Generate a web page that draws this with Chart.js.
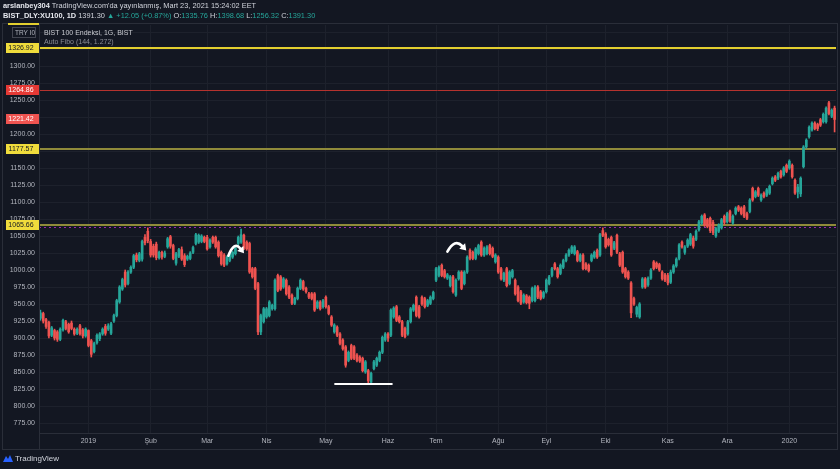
<!DOCTYPE html>
<html>
<head>
<meta charset="utf-8">
<script src="https://cdn.jsdelivr.net/npm/chart.js@4.4.1/dist/chart.umd.min.js"></script>
<style>
  html, body { margin: 0; padding: 0; background: #131722; }
  body { width: 840px; height: 469px; position: relative; overflow: hidden;
         font-family: "Liberation Sans", Arial, sans-serif; }
  #c { position: absolute; left: 0; top: 0; }
  .hdr { position: absolute; left: 3px; font-size: 7.4px; color: #d1d4dc; white-space: nowrap; line-height: 9px; }
  .hdr b { color: #e6e8ee; }
  .g { color: #26a69a; }
  #foot { position: absolute; left: 3px; top: 454px; height: 10px; font-size: 8px; color: #d1d4dc; white-space: nowrap; }
  #foot svg { vertical-align: -2px; margin-right: 2px; }
</style>
</head>
<body>
<canvas id="c" width="840" height="469"></canvas>
<div class="hdr" style="top:1px"><b>arslanbey304</b> TradingView.com'da yayınlanmış, Mart 23, 2021 15:24:02 EET</div>
<div class="hdr" style="top:11px"><b>BIST_DLY:XU100, 1D</b> 1391.30 <span class="g">▲ +12.05 (+0.87%)</span> O:<span class="g">1335.76</span> H:<span class="g">1398.68</span> L:<span class="g">1256.32</span> C:<span class="g">1391.30</span></div>
<div id="foot"><svg width="10" height="9" viewBox="0 0 10 9"><path d="M0 8 L3 2 L5 5 L7 1 L10 8 Z" fill="#2962ff"/></svg>TradingView</div>

<script>
// ---- daily candles, Dec 2018 .. Jan 2020 (one row per month) ----
const open = [
  929,936,927,923,904,911,909,898,912,924,920,922,913,907,918,912,903,
  911,896,880,893,899,906,917,913,907,925,933,953,972,997,980,997,1004,1022,1014,1016,1048,1057,
  1042,1035,1038,1018,1026,1020,1034,1049,1036,1010,1020,1030,1021,1016,1017,1026,1039,1041,1042,1048,
  1048,1034,1048,1048,1041,1026,1022,1009,1014,1019,1024,1039,1041,1051,1041,1039,1002,1002,980,909,924,
  931,933,943,943,992,990,975,985,975,963,951,958,973,983,973,965,965,965,945,953,946,
  960,946,931,909,916,906,897,887,867,889,887,875,872,870,850,852,835,855,860,867,879,897,
  906,904,931,946,931,924,914,906,924,941,960,946,960,958,948,951,958,
  985,992,1007,999,988,977,990,963,987,997,980,997,1029,1026,1017,1024,1041,1022,1024,1036,1032,1012,
  1019,1002,985,1002,980,990,985,975,968,953,962,960,955,955,975,968,960,
  968,980,992,1009,1002,995,1004,1014,1022,1026,1024,1027,1014,1022,1009,1007,1014,1019,1029,1022,1058,
  1053,1045,1048,1032,1051,1024,1026,1002,997,981,958,935,931,975,987,978,988,1012,1010,1008,997,993,
  992,982,997,1006,1017,1041,1026,1035,1038,1047,1045,1059,1069,1081,1074,1076,1070,1050,1057,1062,1079,
  1071,1086,1069,1083,1093,1091,1093,1083,1086,1120,1108,1120,1103,1113,1110,1113,1127,1137,1135,1145,1140,1154,
  1150,1154,1132,1115,1112,1152,1181,1196,1206,1216,1214,1221,1218,1218,1246,1226,1238
];
const high = [
  941,938,929,925,917,913,911,915,928,926,922,925,915,915,920,914,915,
  912,898,894,906,908,915,920,921,923,935,957,977,988,1000,999,1006,1023,1025,1026,1044,1052,1062,
  1045,1038,1041,1028,1028,1028,1048,1051,1038,1026,1032,1034,1024,1022,1027,1035,1054,1053,1052,1050,
  1051,1046,1050,1050,1043,1028,1024,1021,1026,1028,1034,1050,1060,1053,1043,1041,1004,1004,982,935,945,
  945,955,950,987,994,992,989,987,977,965,960,975,987,985,975,967,967,967,955,955,957,
  962,948,933,921,918,908,899,889,881,891,889,877,874,872,867,854,850,867,872,881,903,908,
  908,943,946,948,933,926,916,926,945,950,962,948,962,960,957,962,969,
  1004,1006,1009,1001,995,992,992,987,999,999,999,1021,1031,1028,1033,1038,1043,1034,1036,1038,1034,1024,
  1021,1004,997,1004,999,1001,987,977,970,965,964,962,975,977,977,970,969,
  987,992,1004,1011,1004,1009,1016,1024,1031,1036,1036,1029,1024,1024,1011,1009,1024,1028,1031,1054,1062,
  1055,1047,1050,1042,1053,1026,1028,1004,999,983,960,947,952,989,989,990,1002,1014,1012,1010,999,995,
  995,1000,1008,1018,1039,1043,1036,1046,1054,1050,1059,1073,1081,1083,1076,1078,1073,1063,1068,1076,1081,
  1085,1088,1081,1093,1095,1093,1095,1085,1105,1122,1117,1122,1112,1115,1120,1125,1137,1139,1144,1147,1152,1156,
  1162,1156,1134,1126,1137,1183,1193,1212,1218,1218,1216,1223,1231,1240,1248,1237,1241
];
const low = [
  926,922,914,900,902,897,895,896,910,912,907,912,904,905,904,900,901,
  887,872,878,891,896,904,904,911,905,923,931,951,970,975,978,995,1002,1012,1012,1013,1037,1040,
  1019,1019,1015,1016,1016,1018,1032,1032,1015,1007,1018,1014,1005,1014,1015,1024,1037,1039,1040,1040,
  1029,1032,1039,1032,1019,1007,1005,1007,1012,1017,1022,1037,1039,1030,1029,995,988,971,905,905,922,
  929,931,941,941,968,970,973,963,958,949,949,956,971,970,966,958,956,939,943,941,944,
  944,934,917,907,902,890,882,857,865,868,868,865,864,850,848,833,833,853,858,865,877,895,
  895,902,929,924,922,902,900,904,922,939,931,929,948,944,946,949,956,
  983,990,990,988,986,975,966,961,985,971,978,995,1015,1015,1015,1022,1020,1020,1022,1022,1018,1010,
  995,985,983,975,978,988,963,953,949,951,950,943,953,953,958,956,958,
  966,978,990,1000,988,993,1002,1012,1020,1024,1022,1012,1012,1000,1000,997,1012,1017,1017,1020,1049,
  1032,1035,1020,1030,1024,1005,995,988,986,930,948,931,929,973,973,976,986,1000,1002,998,985,983,
  978,980,995,1004,1015,1032,1023,1033,1036,1032,1043,1057,1067,1064,1062,1055,1052,1048,1055,1060,1067,
  1069,1070,1067,1081,1086,1081,1077,1074,1084,1101,1106,1108,1101,1106,1108,1111,1125,1130,1133,1135,1138,1143,
  1148,1135,1111,1106,1108,1150,1179,1194,1204,1206,1205,1211,1216,1216,1228,1224,1203
];
const close = [
  937,925,917,903,915,900,898,913,926,914,909,914,906,913,906,903,913,
  889,876,892,904,906,913,907,918,921,933,955,975,986,978,997,1004,1021,1015,1024,1042,1040,1043,
  1022,1022,1018,1026,1019,1025,1046,1035,1017,1024,1030,1016,1008,1020,1025,1033,1052,1051,1050,1042,
  1031,1044,1041,1034,1021,1009,1007,1019,1024,1026,1032,1048,1052,1032,1031,997,990,973,909,933,943,
  943,953,948,985,970,972,987,965,960,951,958,973,985,972,968,960,958,941,953,943,955,
  946,936,919,919,904,892,884,860,879,870,870,867,866,852,865,837,848,865,870,879,901,906,
  900,941,944,926,924,904,902,924,943,948,933,931,950,946,955,960,967,
  1002,1004,992,990,993,990,968,985,997,973,997,1019,1017,1017,1031,1036,1022,1032,1034,1024,1020,1022,
  997,987,995,977,997,999,965,955,951,963,952,951,973,975,960,958,967,
  985,990,1002,1002,990,1007,1014,1022,1029,1034,1034,1014,1022,1002,1002,999,1022,1026,1019,1052,1051,
  1034,1037,1022,1040,1026,1007,997,990,988,937,950,945,950,987,975,988,1000,1002,1004,1000,987,985,
  981,997,1006,1016,1037,1034,1034,1044,1052,1035,1057,1071,1079,1066,1064,1058,1055,1061,1066,1074,1070,
  1083,1072,1079,1091,1088,1083,1079,1076,1103,1103,1115,1110,1110,1108,1118,1123,1135,1132,1142,1137,1150,1145,
  1160,1137,1113,1122,1135,1181,1191,1210,1216,1208,1208,1213,1229,1238,1230,1235,1221.42
];

// time axis: first candle of each month
const monthLabels = ['2019', 'Şub', 'Mar', 'Nis', 'May', 'Haz', 'Tem', 'Ağu', 'Eyl', 'Eki', 'Kas', 'Ara', '2020'];
const monthStart  = [17, 39, 59, 80, 101, 123, 140, 162, 179, 200, 222, 243, 265];

// price axis
const priceMin = 760.3;
const priceMax = 1360.3;
const priceTicks = [775, 800, 825, 850, 875, 900, 925, 950, 975, 1000, 1025, 1050, 1075, 1100,
                    1125, 1150, 1175, 1200, 1225, 1250, 1275, 1300, 1325, 1350];

// Auto Fibo levels
const fiboLevels = [1326.92, 1264.86, 1177.57, 1065.66];
const fiboDashLevel = 1063.4;

// drawings: support line and two arrows (candle index, price)
const supportLine = { from: 104, to: 124.6, price: 832 };
const arrowStart = [[66.5, 1021], [144, 1027]];
const arrowBend  = [[68.6, 1043], [146.6, 1047]];
const arrowEnd   = [[71.6, 1027], [150.2, 1031]];

const UP = '#26a69a', DOWN = '#ef5350';
const GRID = '#1d212c', AXIS = '#2a2e39', TXT = '#b2b5be';
const FONT = '"Liberation Sans", Arial, sans-serif';

const fiboStyle = {
  1326.92: { line: '#e3cf2f', width: 2, tag: '#f0dc3c', text: '#131722' },
  1264.86: { line: '#b5322e', width: 1, tag: '#e53935', text: '#ffffff' },
  1177.57: { line: '#8f8a3a', width: 2, tag: '#f0dc3c', text: '#131722' },
  1065.66: { line: '#8f8a3a', width: 2, tag: '#f0dc3c', text: '#131722' }
};

const labels = open.map((_, i) => String(i));
const monthAt = new Map(monthStart.map((idx, i) => [idx, monthLabels[i]]));
const candleColors = close.map((c, i) => (c >= open[i] ? UP : DOWN));

function axisTag(ctx, py, text, bg, fg) {
  ctx.fillStyle = bg;
  ctx.fillRect(6, Math.round(py) - 5, 33, 10);
  ctx.fillStyle = fg;
  ctx.font = '7px ' + FONT;
  ctx.textAlign = 'center';
  ctx.textBaseline = 'middle';
  ctx.fillText(text, 21, Math.round(py) + 0.5);
}

const overlay = {
  id: 'overlay',
  beforeDatasetsDraw(chart) {
    const { ctx, chartArea: a, scales: { y } } = chart;
    ctx.save();
    fiboLevels.forEach(lv => {
      const st = fiboStyle[lv];
      const py = Math.round(y.getPixelForValue(lv)) + (st.width === 1 ? 0.5 : 0);
      ctx.strokeStyle = st.line;
      ctx.lineWidth = st.width;
      ctx.beginPath(); ctx.moveTo(a.left, py); ctx.lineTo(a.right, py); ctx.stroke();
    });
    const pd = Math.round(y.getPixelForValue(fiboDashLevel)) + 0.5;
    ctx.strokeStyle = '#9c27b0';
    ctx.lineWidth = 1;
    ctx.setLineDash([2, 3]);
    ctx.beginPath(); ctx.moveTo(a.left, pd); ctx.lineTo(a.right, pd); ctx.stroke();
    ctx.restore();
  },
  afterDatasetsDraw(chart) {
    const { ctx, scales: { x, y } } = chart;
    ctx.save();
    // support line
    ctx.strokeStyle = '#ffffff';
    ctx.lineWidth = 2;
    const sy = Math.round(y.getPixelForValue(supportLine.price));
    ctx.beginPath();
    ctx.moveTo(x.getPixelForValue(supportLine.from), sy);
    ctx.lineTo(x.getPixelForValue(supportLine.to), sy);
    ctx.stroke();
    // curved arrows
    arrowStart.forEach((s, i) => {
      const x0 = x.getPixelForValue(s[0]), y0 = y.getPixelForValue(s[1]);
      const xc = x.getPixelForValue(arrowBend[i][0]), yc = y.getPixelForValue(arrowBend[i][1]);
      const x1 = x.getPixelForValue(arrowEnd[i][0]), y1 = y.getPixelForValue(arrowEnd[i][1]);
      const ang = Math.atan2(y1 - yc, x1 - xc);
      const bx = x1 - Math.cos(ang) * 4, by = y1 - Math.sin(ang) * 4;
      ctx.lineWidth = 2.6;
      ctx.lineCap = 'round';
      ctx.beginPath(); ctx.moveTo(x0, y0); ctx.quadraticCurveTo(xc, yc, bx, by); ctx.stroke();
      ctx.fillStyle = '#ffffff';
      ctx.beginPath();
      ctx.moveTo(x1 + Math.cos(ang) * 2, y1 + Math.sin(ang) * 2);
      ctx.lineTo(bx + Math.cos(ang + Math.PI / 2) * 4, by + Math.sin(ang + Math.PI / 2) * 4);
      ctx.lineTo(bx + Math.cos(ang - Math.PI / 2) * 4, by + Math.sin(ang - Math.PI / 2) * 4);
      ctx.closePath(); ctx.fill();
    });
    ctx.restore();
  },
  afterDraw(chart) {
    const { ctx, chartArea: a, scales: { y } } = chart;
    ctx.save();
    // pane frame
    ctx.strokeStyle = AXIS;
    ctx.lineWidth = 1;
    ctx.strokeRect(2.5, 23.5, 835, 426);
    ctx.beginPath(); ctx.moveTo(a.left + 0.5, 24); ctx.lineTo(a.left + 0.5, 449); ctx.stroke();
    ctx.strokeStyle = '#e3cf2f';
    ctx.lineWidth = 2;
    ctx.beginPath(); ctx.moveTo(8, 24); ctx.lineTo(39, 24); ctx.stroke();
    // price tags on the axis
    fiboLevels.forEach(lv => {
      const st = fiboStyle[lv];
      axisTag(ctx, y.getPixelForValue(lv), lv.toFixed(2), st.tag, st.text);
    });
    const last = close[close.length - 1];
    axisTag(ctx, y.getPixelForValue(last), last.toFixed(2), DOWN, '#ffffff');
    // currency button
    ctx.fillStyle = '#131722';
    ctx.fillRect(12, 27, 24, 11);
    ctx.strokeStyle = '#434651';
    ctx.lineWidth = 1;
    ctx.strokeRect(12.5, 27.5, 23, 10);
    ctx.fillStyle = TXT;
    ctx.font = '6.5px ' + FONT;
    ctx.textAlign = 'left';
    ctx.textBaseline = 'middle';
    ctx.fillText('TRY I0', 15, 33);
    // pane legend
    ctx.font = '7px ' + FONT;
    ctx.fillStyle = '#c8cad0';
    ctx.fillText('BIST 100 Endeksi, 1G, BIST', 44, 33);
    ctx.fillStyle = '#8b8e97';
    ctx.fillText('Auto Fibo (144, 1.272)', 44, 42);
    ctx.restore();
  }
};

new Chart(document.getElementById('c'), {
  type: 'bar',
  data: {
    labels: labels,
    datasets: [
      {
        label: 'body',
        data: open.map((o, i) => [o, close[i]]),
        backgroundColor: candleColors,
        barThickness: 2,
        grouped: false
      },
      {
        label: 'wick',
        data: low.map((l, i) => [l, high[i]]),
        backgroundColor: candleColors,
        barThickness: 1,
        grouped: false
      }
    ]
  },
  options: {
    responsive: false,
    animation: false,
    layout: { padding: { left: 2, right: 4, top: 25, bottom: 20 } },
    plugins: { legend: { display: false }, tooltip: { enabled: false } },
    scales: {
      x: {
        grid: {
          offset: false,
          drawTicks: false,
          color: c => (monthAt.has(c.index) ? GRID : 'rgba(0,0,0,0)')
        },
        border: { color: AXIS },
        ticks: {
          autoSkip: false,
          maxRotation: 0,
          padding: 4,
          color: TXT,
          font: { size: 7, family: FONT },
          callback: (v, i) => monthAt.get(i) || ''
        },
        afterFit: s => { s.height = 16; }
      },
      y: {
        min: priceMin,
        max: priceMax,
        grid: { drawTicks: false, color: GRID },
        border: { color: AXIS },
        afterBuildTicks: s => { s.ticks = priceTicks.map(v => ({ value: v })); },
        ticks: {
          padding: 4,
          color: TXT,
          font: { size: 7, family: FONT },
          callback: v => (v > 1310 ? '' : Number(v).toFixed(2))
        },
        afterFit: s => { s.width = 37; }
      }
    }
  },
  plugins: [overlay]
});
</script>
</body>
</html>
